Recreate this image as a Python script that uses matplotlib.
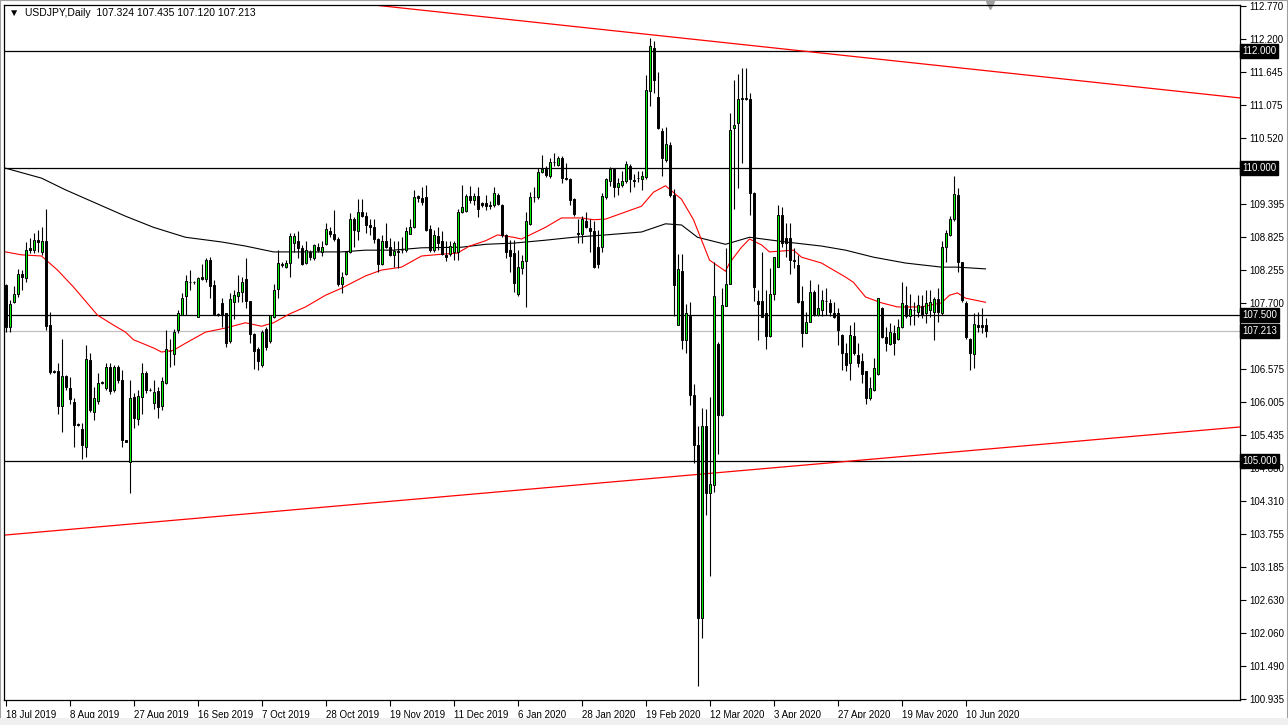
import numpy as np
import matplotlib
matplotlib.use("Agg")
import matplotlib.pyplot as plt
from matplotlib.patches import Rectangle

plt.rcParams["font.family"] = ["Liberation Sans", "DejaVu Sans"]

# daily USDJPY bars, 18 Jul 2019 -> mid Jun 2020
opens = [108.00, 107.29, 107.72, 107.85, 108.20, 108.12, 108.63, 108.61, 108.77, 108.57,
         108.76, 107.32, 106.54, 106.54, 105.93, 106.45, 106.25, 106.00, 105.63, 105.55,
         105.24, 106.72, 105.84, 106.03, 106.33, 106.24, 106.61, 106.21, 106.60, 106.38,
         105.35, 104.99, 106.09, 105.71, 106.09, 106.50, 106.22, 105.99, 106.19, 105.93,
         106.33, 106.88, 106.83, 107.23, 107.49, 107.81, 108.06, 108.05, 107.45, 108.14,
         108.10, 108.43, 108.00, 107.51, 107.69, 107.52, 107.04, 107.72, 107.81, 107.89,
         108.10, 107.73, 107.17, 106.91, 106.63, 107.25, 107.04, 107.46, 107.93, 108.36,
         108.32, 108.38, 108.73, 108.75, 108.63, 108.38, 108.57, 108.46, 108.65, 108.57,
         108.71, 108.93, 108.87, 108.79, 108.02, 108.19, 108.56, 109.14, 108.92, 109.26,
         109.18, 109.03, 108.99, 108.79, 108.36, 108.76, 108.66, 108.52, 108.58, 108.60,
         108.61, 108.88, 109.00, 109.53, 109.49, 109.51, 108.96, 108.61, 108.84, 108.75,
         108.52, 108.53, 108.56, 108.57, 109.26, 109.27, 109.53, 109.45, 109.53, 109.40,
         109.41, 109.36, 109.37, 109.54, 109.37, 108.86, 108.60, 108.55, 107.85, 108.29,
         108.42, 109.05, 109.50, 109.50, 109.93, 109.98, 109.87, 110.11, 110.05, 110.17,
         109.83, 109.81, 109.47, 108.89, 108.87, 109.10, 108.97, 108.92, 108.65, 108.65,
         109.51, 109.78, 109.98, 109.68, 109.71, 109.78, 110.04, 109.79, 109.83, 109.82,
         109.85, 111.32, 112.06, 111.22, 110.64, 110.14, 110.40, 109.55, 107.33, 108.25,
         107.06, 107.47, 106.13, 105.28, 102.31, 105.60, 104.45, 104.59, 106.99, 105.79,
         107.65, 108.03, 110.68, 110.77, 111.19, 111.20, 111.18, 109.57, 107.74, 107.74,
         107.52, 107.13, 107.85, 108.32, 109.20, 108.80, 108.80, 108.43, 108.35, 107.74,
         107.19, 107.38, 107.88, 107.49, 107.58, 107.74, 107.69, 107.53, 107.52, 107.15,
         106.85, 106.67, 107.14, 106.81, 106.70, 106.53, 106.07, 106.21, 106.48, 107.61,
         107.12, 107.00, 107.19, 107.08, 107.28, 107.66, 107.47, 107.58, 107.55, 107.65,
         107.52, 107.58, 107.55, 107.76, 107.52, 108.65, 108.86, 109.13, 109.54, 108.39,
         107.70, 107.09, 106.83, 107.32, 107.32, 107.324]
highs = [108.03, 107.75, 107.98, 108.28, 108.26, 108.74, 108.80, 108.89, 108.94, 109.00,
         109.30, 107.55, 106.55, 106.67, 107.08, 106.47, 106.44, 106.07, 105.64, 105.64,
         106.98, 106.85, 106.27, 106.50, 106.36, 106.68, 106.68, 106.64, 106.64, 106.55,
         105.36, 106.39, 106.16, 106.22, 106.68, 106.53, 106.24, 106.39, 106.27, 106.44,
         107.23, 107.09, 107.26, 107.58, 107.86, 108.17, 108.26, 108.08, 108.15, 108.37,
         108.46, 108.48, 108.09, 107.52, 107.78, 107.53, 107.86, 107.92, 108.18, 108.15,
         108.46, 107.73, 107.18, 106.95, 107.24, 107.29, 107.50, 108.03, 108.61, 108.40,
         108.43, 108.90, 108.89, 108.93, 108.69, 108.76, 108.61, 108.71, 108.73, 108.76,
         109.07, 109.00, 109.29, 108.83, 108.23, 108.57, 109.24, 109.17, 109.47, 109.47,
         109.26, 109.14, 109.14, 108.80, 108.86, 109.07, 108.80, 108.75, 108.75, 108.83,
         108.99, 109.14, 109.63, 109.54, 109.68, 109.71, 109.03, 108.94, 109.00, 108.92,
         108.75, 108.75, 108.75, 109.31, 109.71, 109.56, 109.70, 109.58, 109.68, 109.43,
         109.54, 109.44, 109.68, 109.58, 109.38, 108.87, 108.77, 108.77, 108.60, 108.52,
         109.26, 109.60, 109.68, 110.00, 110.22, 110.03, 110.17, 110.26, 110.21, 110.21,
         110.09, 109.84, 109.49, 109.14, 109.18, 109.26, 109.13, 109.09, 108.94, 109.57,
         109.84, 110.02, 110.00, 109.84, 109.95, 110.13, 110.07, 109.90, 109.95, 109.95,
         111.60, 112.23, 112.18, 111.65, 110.69, 110.70, 110.45, 109.64, 108.54, 108.54,
         107.68, 107.71, 106.31, 105.59, 105.91, 105.89, 106.09, 108.40, 107.03, 107.95,
         108.63, 110.95, 111.51, 111.61, 111.71, 111.71, 111.28, 109.60, 107.92, 108.56,
         107.92, 108.29, 108.49, 109.37, 109.34, 109.07, 109.06, 108.63, 108.52, 107.98,
         107.55, 108.09, 107.92, 108.03, 107.92, 107.95, 107.76, 107.72, 107.62, 107.17,
         107.01, 107.32, 107.38, 107.01, 106.84, 106.54, 106.44, 106.75, 107.79, 107.63,
         107.29, 107.35, 107.32, 107.43, 108.06, 107.98, 107.85, 107.72, 107.83, 107.83,
         107.92, 107.92, 107.80, 107.95, 108.76, 108.94, 109.18, 109.86, 109.66, 108.40,
         107.74, 107.10, 107.52, 107.55, 107.62, 107.435]
lows = [107.21, 107.21, 107.69, 107.80, 107.92, 108.06, 108.55, 108.55, 108.57, 108.52,
        107.24, 106.48, 106.50, 105.81, 105.50, 106.21, 105.98, 105.24, 105.60, 105.04,
        105.07, 105.84, 105.70, 105.98, 106.31, 106.21, 106.15, 106.18, 106.33, 105.24,
        105.32, 104.45, 105.56, 105.61, 105.81, 106.16, 106.19, 105.88, 105.73, 105.87,
        106.31, 106.61, 106.64, 107.18, 107.49, 107.49, 107.92, 108.03, 107.45, 108.09,
        108.06, 107.78, 107.49, 107.48, 107.29, 106.95, 107.01, 107.42, 107.72, 107.72,
        107.61, 107.02, 106.57, 106.55, 106.61, 106.90, 107.01, 107.44, 107.78, 108.32,
        108.29, 108.14, 108.56, 108.46, 108.35, 108.36, 108.44, 108.43, 108.57, 108.50,
        108.69, 108.83, 108.75, 107.98, 107.87, 108.18, 108.55, 108.65, 108.78, 109.17,
        108.89, 108.86, 108.72, 108.23, 108.35, 108.63, 108.50, 108.32, 108.29, 108.55,
        108.57, 108.87, 108.97, 109.43, 109.37, 108.92, 108.57, 108.57, 108.60, 108.52,
        108.42, 108.50, 108.43, 108.44, 109.23, 109.26, 109.40, 109.37, 109.17, 109.34,
        109.29, 109.31, 109.34, 109.37, 108.83, 108.46, 108.23, 107.89, 107.82, 108.20,
        107.63, 109.03, 109.43, 109.48, 109.91, 109.85, 109.83, 110.04, 110.04, 109.74,
        109.80, 109.37, 109.18, 108.72, 108.72, 108.97, 108.56, 108.29, 108.29, 108.57,
        109.48, 109.69, 109.51, 109.55, 109.68, 109.75, 109.59, 109.68, 109.77, 109.62,
        109.82, 111.06, 111.28, 110.67, 109.87, 110.11, 109.51, 107.47, 107.32, 106.92,
        106.85, 105.95, 104.97, 101.15, 101.98, 104.07, 103.03, 104.47, 105.12, 105.77,
        107.64, 108.02, 109.31, 109.66, 110.08, 111.17, 109.20, 107.74, 107.07, 107.45,
        106.91, 107.12, 107.75, 108.31, 108.66, 108.49, 108.20, 108.29, 107.69, 106.95,
        107.18, 107.37, 107.47, 107.47, 107.47, 107.49, 107.47, 107.44, 106.98, 106.55,
        106.53, 106.38, 106.81, 106.61, 106.33, 105.98, 106.04, 106.20, 106.47, 107.10,
        106.87, 106.98, 106.81, 107.07, 107.27, 107.44, 107.32, 107.32, 107.46, 107.44,
        107.35, 107.46, 107.07, 107.38, 107.49, 108.40, 108.84, 109.10, 108.23, 107.72,
        107.09, 106.56, 106.58, 107.21, 107.19, 107.120]
closes = [107.29, 107.68, 107.85, 108.20, 108.15, 108.61, 108.60, 108.77, 108.74, 108.76,
          107.30, 106.52, 106.52, 105.93, 106.45, 106.26, 106.05, 105.62, 105.62, 105.27,
          106.74, 105.87, 106.07, 106.33, 106.34, 106.61, 106.20, 106.61, 106.38, 105.36,
          105.33, 106.07, 105.73, 106.11, 106.50, 106.22, 106.21, 106.18, 105.92, 106.37,
          106.91, 106.87, 107.21, 107.52, 107.79, 108.07, 108.05, 108.06, 108.12, 108.10,
          108.43, 107.99, 107.49, 107.50, 107.50, 107.02, 107.76, 107.83, 107.89, 108.06,
          107.74, 107.17, 106.88, 106.71, 107.20, 106.95, 107.49, 107.92, 108.38, 108.35,
          108.38, 108.84, 108.84, 108.63, 108.36, 108.60, 108.48, 108.69, 108.60, 108.65,
          108.96, 108.87, 108.79, 108.02, 108.15, 108.56, 109.14, 108.94, 109.26, 109.18,
          109.03, 108.99, 108.79, 108.36, 108.76, 108.66, 108.52, 108.59, 108.57, 108.61,
          108.92, 109.00, 109.51, 109.49, 109.43, 108.94, 108.61, 108.86, 108.73, 108.53,
          108.48, 108.67, 108.72, 109.26, 109.33, 109.53, 109.46, 109.53, 109.30, 109.37,
          109.36, 109.37, 109.58, 109.39, 108.86, 108.57, 108.50, 108.04, 108.32, 108.42,
          109.09, 109.50, 109.51, 109.93, 109.98, 109.88, 110.11, 110.10, 110.17, 109.84,
          109.82, 109.46, 109.22, 108.88, 109.13, 109.00, 108.92, 108.31, 108.37, 109.52,
          109.82, 109.98, 109.68, 109.75, 109.78, 110.07, 109.82, 109.78, 109.84, 109.87,
          111.33, 112.09, 111.51, 110.69, 110.18, 110.41, 109.55, 108.00, 108.27, 107.06,
          107.52, 106.13, 105.28, 102.31, 105.60, 104.45, 104.61, 107.82, 105.79, 107.66,
          108.03, 110.66, 110.74, 111.19, 111.20, 111.19, 109.57, 107.97, 107.68, 107.46,
          107.13, 107.85, 108.48, 109.20, 108.73, 108.73, 108.44, 108.42, 107.72, 107.19,
          107.38, 107.88, 107.49, 107.61, 107.75, 107.73, 107.55, 107.45, 107.23, 106.85,
          106.64, 107.15, 106.85, 106.68, 106.48, 106.07, 106.24, 106.58, 107.78, 107.12,
          107.01, 107.21, 107.01, 107.29, 107.69, 107.47, 107.59, 107.57, 107.66, 107.49,
          107.70, 107.71, 107.76, 107.55, 108.66, 108.89, 109.13, 109.56, 108.40, 107.75,
          107.11, 106.84, 107.34, 107.28, 107.29, 107.213]

# bottom axis labels, one every 16 bars
date_labels = ["18 Jul 2019", "8 Aug 2019", "27 Aug 2019", "16 Sep 2019", "7 Oct 2019",
               "28 Oct 2019", "19 Nov 2019", "11 Dec 2019", "6 Jan 2020", "28 Jan 2020",
               "19 Feb 2020", "12 Mar 2020", "3 Apr 2020", "27 Apr 2020", "19 May 2020",
               "10 Jun 2020"]

# moving averages (bar index, price)
red_ma_bar = [0, 4, 9, 13, 17, 23, 27, 30, 32, 37, 39, 42, 45, 50, 55, 60, 64, 67, 71, 75,
              80, 84, 90, 94, 99, 104, 109, 113, 116, 120, 123, 127, 129, 135, 139, 144, 147,
              150, 159, 162, 165, 169, 172, 176, 180, 181, 184, 186, 189, 191, 197, 199, 204,
              207, 210, 212, 215, 219, 223, 229, 234, 236, 238, 240, 245]
red_ma_val = [108.57, 108.52, 108.50, 108.26, 107.97, 107.49, 107.32, 107.20, 107.07, 106.93,
              106.86, 106.89, 107.01, 107.20, 107.27, 107.36, 107.30, 107.36, 107.51, 107.63,
              107.83, 107.95, 108.16, 108.26, 108.31, 108.50, 108.53, 108.55, 108.67, 108.76,
              108.86, 108.82, 108.79, 108.99, 109.15, 109.15, 109.12, 109.13, 109.35, 109.59,
              109.70, 109.47, 109.12, 108.43, 108.24, 108.38, 108.65, 108.79, 108.69, 108.57,
              108.60, 108.48, 108.38, 108.26, 108.14, 108.05, 107.80, 107.70, 107.63, 107.63,
              107.70, 107.83, 107.87, 107.78, 107.71]
black_ma_bar = [0, 9, 15, 30, 37, 45, 54, 60, 67, 75, 84, 90, 97, 104, 114, 120, 127, 135,
                142, 150, 159, 165, 169, 173, 180, 186, 195, 204, 210, 217, 225, 234, 238, 245]
black_ma_val = [110.00, 109.83, 109.63, 109.18, 108.99, 108.82, 108.74, 108.67, 108.57, 108.57,
                108.57, 108.60, 108.60, 108.64, 108.65, 108.70, 108.72, 108.77, 108.82, 108.86,
                108.91, 109.05, 109.03, 108.82, 108.70, 108.82, 108.74, 108.67, 108.60, 108.48,
                108.38, 108.31, 108.31, 108.28]

# horizontal levels, bid line and trend lines (bar, price)
levels = [112.0, 110.0, 107.5, 105.0]
bid = 107.213
trend_top = [(94.4, 112.77), (308.6, 111.20)]
trend_bottom = [(0.0, 103.735), (308.6, 105.58)]
price_ticks = [112.770, 112.200, 111.645, 111.075, 110.520, 109.950, 109.395, 108.825,
               108.255, 107.700, 107.130, 106.575, 106.005, 105.435, 104.880, 104.310,
               103.755, 103.185, 102.630, 102.060, 101.490, 100.935]
# these two sit under the highlighted level boxes on the chart
hidden_ticks = [109.950, 107.130]

o = np.array(opens)
h = np.array(highs)
l = np.array(lows)
c = np.array(closes)
x = np.arange(len(o))

fig = plt.figure(figsize=(12.88, 7.25), dpi=100)
ax = fig.add_axes([4 / 1288, 25 / 725, 1236 / 1288, 695 / 725])
ax.set_xlim(-0.375, 308.625)
ax.set_ylim(100.917, 112.787)

# window frame
fig.patches.append(Rectangle((0, 0), 1, 1, transform=fig.transFigure, fill=False,
                             ec="#a0a0a0", lw=1.5))
fig.patches.append(Rectangle((0, 0), 1, 7 / 725, transform=fig.transFigure,
                             fc="#f0f0f0", ec="none"))

# levels and lines under the candles
for lev in levels:
    ax.axhline(lev, color="black", lw=0.9, zorder=1)
ax.axhline(bid, color="#c0c0c0", lw=0.9, zorder=1)
ax.axline(trend_top[0], trend_top[1], color="red", lw=0.9, zorder=1)
ax.axline(trend_bottom[0], trend_bottom[1], color="red", lw=0.9, zorder=1)
ax.plot(black_ma_bar, black_ma_val, color="black", lw=0.8, zorder=2)
ax.plot(red_ma_bar, red_ma_val, color="red", lw=0.8, zorder=2)

# candles
ax.vlines(x, l, h, color="black", lw=0.8, zorder=3)
up = c > o
body = np.maximum(np.abs(c - o), 0.004)
ax.bar(x, body, bottom=np.minimum(o, c), width=0.5,
       color=np.where(up, "#00ee00", "black"), edgecolor="black", linewidth=0.7, zorder=4)

# right price axis
ax.yaxis.tick_right()
ax.set_yticks(price_ticks)
ax.set_yticklabels(["" if p in hidden_ticks else f"{p:.3f}" for p in price_ticks])
ax.tick_params(axis="y", direction="out", length=4, width=0.8, labelsize=7, pad=3)
for lev in levels + [bid]:
    ax.text(1.0015, lev, f"{lev:.3f}", transform=ax.get_yaxis_transform(),
            fontsize=7, color="white", va="center", ha="left", zorder=6,
            bbox=dict(boxstyle="square,pad=0.2", fc="black", ec="black"))

# date axis
ticks = np.arange(len(date_labels)) * 16
ax.set_xticks(ticks)
ax.set_xticklabels(date_labels, ha="left")
ax.tick_params(axis="x", direction="out", length=4, width=0.8, labelsize=7, pad=3)

for s in ax.spines.values():
    s.set_linewidth(0.9)

fig.text(9 / 1288, 1 - 13 / 725, "\u25bc  USDJPY,Daily  107.324 107.435 107.120 107.213",
         fontsize=7.5, va="center", ha="left")
ax.plot([0.798], [1.0], marker="v", color="#a0a0a0", markersize=6,
        transform=ax.transAxes, clip_on=False)

fig.savefig("out.png", dpi=100)
